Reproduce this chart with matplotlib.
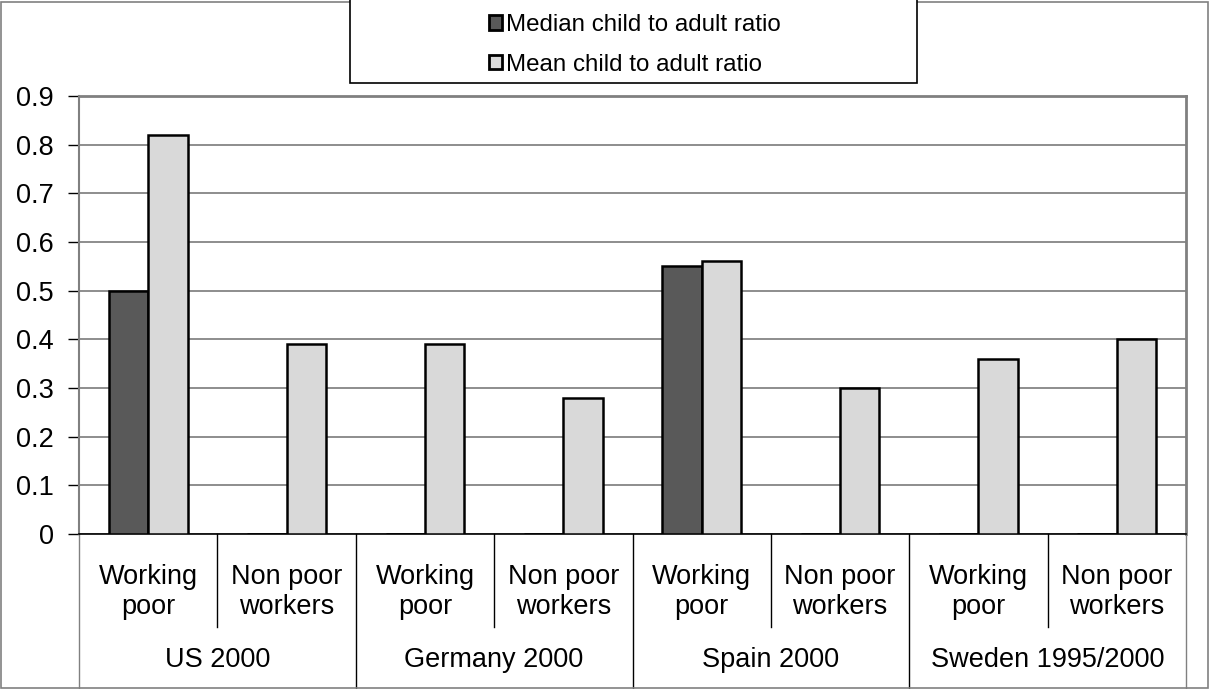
import matplotlib.pyplot as plt
import matplotlib.transforms as mtransforms
from matplotlib.patches import Rectangle
import numpy as np

plt.rcParams['font.family'] = ['Liberation Sans', 'DejaVu Sans']

# --------------------------
# Datos
# --------------------------
paises = ["US 2000", "Germany 2000", "Spain 2000", "Sweden 1995/2000"]
grupos = ["Working\npoor", "Non poor\nworkers"]
mediana = [0.50, 0, 0, 0, 0.55, 0, 0, 0]
media = [0.82, 0.39, 0.39, 0.28, 0.56, 0.30, 0.36, 0.40]
serie_nombres = ["Median child to adult ratio", "Mean child to adult ratio"]

FS = 19.5
W, H = 1210, 689
fig = plt.figure(figsize=(W / 100, H / 100), dpi=100)

# borde exterior del grafico
fig.patches.append(Rectangle((1 / W, 1 / H), 1 - 3 / W, 1 - 3 / H, transform=fig.transFigure,
                             fill=False, edgecolor="#808080", linewidth=1.2))

x0, x1 = 79, 1186
y_top, y_bot = 96, 534
ax = fig.add_axes([x0 / W, 1 - y_bot / H, (x1 - x0) / W, (y_bot - y_top) / H])

n = len(media)
x = np.arange(n) + 0.5
ancho = 0.285
ax.bar(x - ancho, mediana, width=ancho, align="edge", color="#595959",
       edgecolor="black", linewidth=1.8, label=serie_nombres[0], zorder=3)
ax.bar(x, media, width=ancho, align="edge", color="#d9d9d9",
       edgecolor="black", linewidth=1.8, label=serie_nombres[1], zorder=3)

ax.set_xlim(0, n)
ax.set_ylim(0, 0.9)
ax.set_yticks(np.arange(0, 0.91, 0.1))
ax.set_yticklabels(["0"] + [f"{v:.1f}" for v in np.arange(0.1, 0.91, 0.1)])
ax.tick_params(axis="y", length=8, width=1, color="black", labelsize=FS, pad=10)
ax.set_xticks([])
ax.yaxis.grid(True, color="#7a7a7a", linewidth=1.2, zorder=0)
for lado in ["top", "right"]:
    ax.spines[lado].set_color("#808080")
    ax.spines[lado].set_linewidth(2)
ax.spines["left"].set_color("#808080")
ax.spines["left"].set_linewidth(1.5)
ax.spines["bottom"].set_color("black")
ax.spines["bottom"].set_linewidth(1.2)

# eje de categorias de dos niveles
trans = mtransforms.blended_transform_factory(ax.transData, ax.transAxes)
alto = y_bot - y_top
y_medio = -(627 - y_bot) / alto
y_fondo = -(H - y_bot) / alto
for i in range(n + 1):
    y_fin = y_fondo if i % 2 == 0 else y_medio
    ax.plot([i, i], [0, y_fin], transform=trans, color="black" if 0 < i < n else "#808080",
            linewidth=1, clip_on=False)

for i in range(n):
    ax.text(i + 0.5, -(592 - y_bot) / alto, grupos[i % 2], transform=trans, ha="center",
            va="center", fontsize=FS, linespacing=1.15)
for j, p in enumerate(paises):
    ax.text(2 * j + 1, -(660 - y_bot) / alto, p, transform=trans, ha="center",
            va="center", fontsize=FS)

# leyenda: marco propio y entradas alineadas a la izquierda
fig.patches.append(Rectangle((350 / W, 1 - 83 / H), (917 - 350) / W, 83 / H + 0.01,
                             transform=fig.transFigure, fill=True, facecolor="white",
                             edgecolor="black", linewidth=1.2, zorder=5))
leg = fig.legend(loc="center left", bbox_to_anchor=(489 / W, 1 - 45 / H),
                 ncol=1, fontsize=17.4, frameon=False,
                 handlelength=0.55, handleheight=0.55, handletextpad=0.15,
                 borderaxespad=0, labelspacing=0.72, borderpad=0)
for h in leg.legend_handles:
    h.set_linewidth(2)
leg.set_zorder(6)

fig.savefig("out.png", dpi=100)
